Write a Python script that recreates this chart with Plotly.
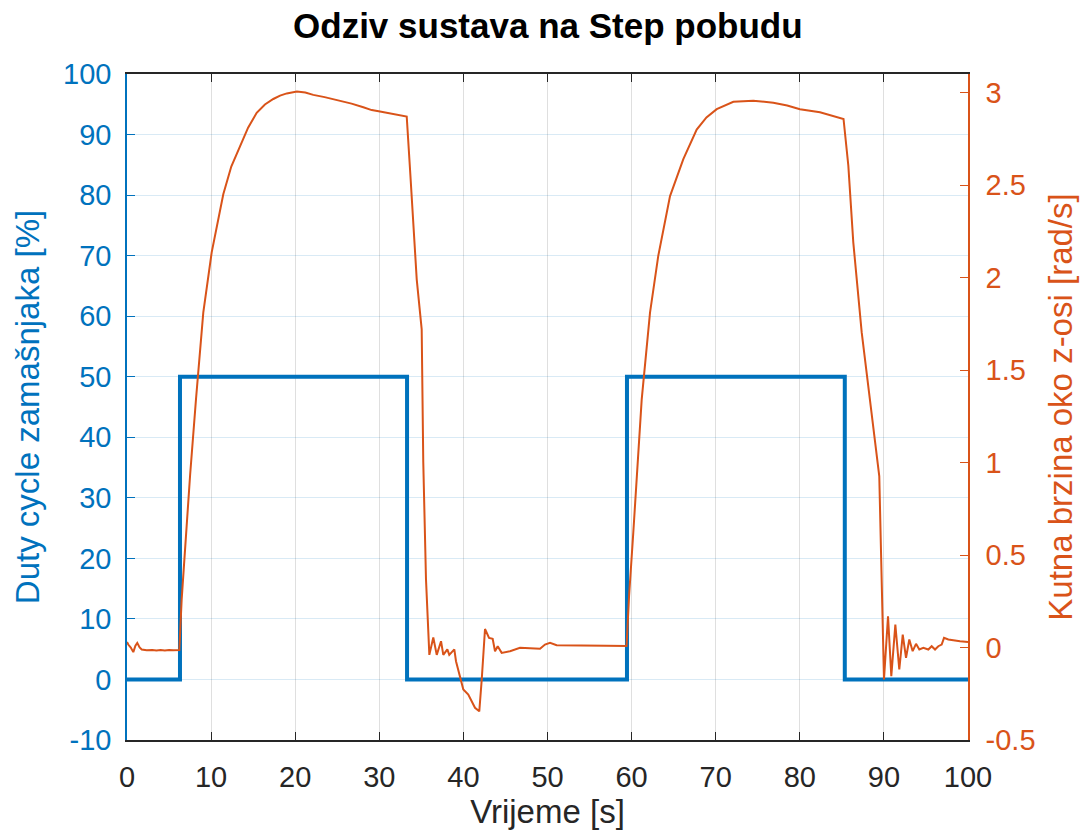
import plotly.graph_objects as go

# Blue: duty cycle step input [%]
duty_t = [0, 6.3, 6.3, 33.3, 33.3, 59.45, 59.45, 85.35, 85.35, 100]
duty_v = [0, 0, 50, 50, 0, 0, 50, 50, 0, 0]

# Orange: angular velocity about z axis [rad/s]
omega_t = [0, 0.15, 0.45, 0.75, 1.0, 1.22, 1.5, 1.75, 2.34, 3.0, 3.5, 4.0, 4.5, 5.0, 5.5, 6.22,
           6.5, 7.0, 7.5, 8.2, 8.48, 9.07, 10.07, 11.45, 12.4, 13.44, 14.4, 15.42, 16.4, 17.4,
           18.2, 19.0, 20.2, 21.2, 22.15, 23.5, 25.3, 26.7, 28.1, 29.1, 30.08, 31.5, 33.26,
           33.7, 34.45, 35.04, 35.23, 35.55, 35.83, 35.95, 36.42, 36.83, 37.34, 37.61, 38.09,
           38.32, 38.92, 39.12, 39.99, 40.58, 41.38, 41.89, 42.18, 42.57, 43.05, 43.48, 43.76,
           44.08, 44.55, 45.54, 46.73, 48.28, 49.11, 49.7, 50.3, 51.09, 53, 55, 57, 59.4,
           59.7, 60.2, 60.7, 61.2, 62.19, 63.17, 64.57, 66.15, 67.74, 68.9, 70.12, 72.1, 74.47,
           76.85, 78.5, 80.02, 82.4, 85.2, 85.77, 86.36, 87.36, 88.35, 89.14, 89.45, 89.65,
           89.85, 90.01, 90.49, 90.88, 91.36, 91.83, 92.24, 92.63, 93.02, 93.42, 93.82, 94.21,
           94.69, 95.28, 95.68, 96.08, 96.47, 96.87, 97.15, 97.66, 99.05, 100]
omega_v = [0.03, 0.016, 0.0, -0.025, 0.01, 0.025, 0.0, -0.011, -0.015, -0.013, -0.016, -0.013,
           -0.016, -0.013, -0.015, -0.014,
           0.26, 0.6, 0.93, 1.34, 1.487, 1.81, 2.136, 2.45, 2.6, 2.71, 2.81, 2.89, 2.935, 2.965,
           2.983, 2.995, 3.005, 3.0, 2.987, 2.975, 2.956, 2.94, 2.92, 2.905, 2.897, 2.885, 2.87,
           2.55, 1.99, 1.72, 1.0, 0.37, 0.04, -0.04, 0.054, -0.04, 0.034, -0.04, -0.01,
           -0.04, -0.01, -0.074, -0.227, -0.254, -0.326, -0.345, -0.173, 0.10, 0.052, 0.047, -0.02,
           0.007, -0.029, -0.02, -0.002, -0.007, -0.007, 0.016, 0.025, 0.012, 0.01, 0.008, 0.009, 0.008,
           0.28, 0.62, 0.98, 1.34, 1.81, 2.117, 2.44, 2.64, 2.80, 2.865, 2.91, 2.95, 2.956,
           2.944, 2.93, 2.91, 2.893, 2.857, 2.605, 2.19, 1.703, 1.342, 1.071, 0.927, 0.53,
           0.15, -0.173, 0.169, -0.155, 0.124, -0.119, 0.07, -0.056, 0.043, -0.02, 0.02, -0.011,
           -0.002, -0.011, 0.007, -0.011, 0.007, 0.016, 0.052, 0.043, 0.034, 0.03]

x_ticks = list(range(0, 101, 10))
left_ticks = list(range(-10, 101, 10))
left_labels = [str(v) for v in left_ticks]
right_ticks = [-0.5, 0, 0.5, 1, 1.5, 2, 2.5, 3]
right_labels = ["-0.5", "0", "0.5", "1", "1.5", "2", "2.5", "3"]

BLUE = "#0072BD"
ORANGE = "#D95319"
DARK = "#262626"
FONT = "Liberation Sans"

fig = go.Figure()
fig.add_trace(go.Scatter(x=duty_t, y=duty_v, mode="lines",
                         line=dict(color=BLUE, width=4), yaxis="y", showlegend=False))
fig.add_trace(go.Scatter(x=omega_t, y=omega_v, mode="lines",
                         line=dict(color=ORANGE, width=2), yaxis="y2", showlegend=False))

fig.update_layout(
    width=1088, height=832,
    margin=dict(l=127, r=120, t=74, b=92),
    paper_bgcolor="white", plot_bgcolor="white",
    font=dict(family=FONT, size=29, color=DARK),
    title=dict(text="<b>Odziv sustava na Step pobudu</b>", x=0.5035, xanchor="center",
               y=1 - 26 / 832, yanchor="middle", yref="container",
               font=dict(family=FONT, size=35, color="#000000")),
    xaxis=dict(range=[0, 100], tickvals=x_ticks, ticks="inside", ticklen=8, tickcolor=DARK,
               showline=True, linecolor=DARK, linewidth=1.5, mirror="ticks",
               showgrid=True, gridcolor="rgba(38,38,38,0.15)", gridwidth=1, zeroline=False,
               automargin=False,
               tickfont=dict(size=29, color=DARK), ticklabelstandoff=10,
               title=dict(text="Vrijeme [s]", font=dict(size=33, color=DARK), standoff=0)),
    yaxis=dict(range=[-10, 100], tickvals=left_ticks, ticktext=left_labels, ticks="inside",
               ticklen=8, tickcolor=BLUE,
               showline=True, linecolor=BLUE, linewidth=1.5,
               showgrid=True, gridcolor="rgba(0,114,189,0.15)", gridwidth=1, zeroline=False,
               automargin=False,
               tickfont=dict(size=29, color=BLUE), ticklabelstandoff=8,
               title=dict(text="Duty cycle zamašnjaka [%]", font=dict(size=33, color=BLUE), standoff=14)),
    yaxis2=dict(range=[-0.5, 3.1], tickvals=right_ticks, ticktext=right_labels, overlaying="y",
                side="right", ticks="inside", ticklen=8, tickcolor=ORANGE,
                showline=True, linecolor=ORANGE, linewidth=1.5,
                showgrid=False, zeroline=False, automargin=False,
                tickfont=dict(size=29, color=ORANGE), ticklabelstandoff=10,
                title=dict(text="Kutna brzina oko z-osi [rad/s]", font=dict(size=33, color=ORANGE), standoff=14)),
)

fig.write_html("out.html", config={"displayModeBar": False},
               post_script="document.body.style.margin='0';")
